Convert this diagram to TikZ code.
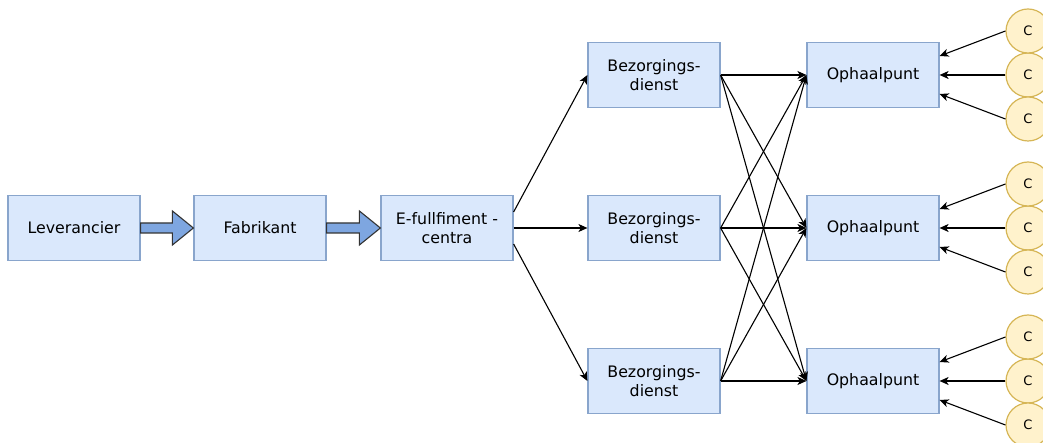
\documentclass[tikz,border=0pt]{standalone}
\usepackage{fontspec}
\setmainfont{DejaVu Sans}
\usepackage{tikz}
\usetikzlibrary{arrows.meta, positioning}

\definecolor{boxfill}{HTML}{DAE8FC}
\definecolor{boxdraw}{HTML}{6C8EBF}
\definecolor{klantfill}{HTML}{FFF2CC}
\definecolor{klantdraw}{HTML}{D6B656}
\definecolor{pijlfill}{HTML}{7EA6E0}

\begin{document}
\begin{tikzpicture}[auto, >={Stealth[length=9pt, width=8pt, inset=2.5pt]}, line width=1.1pt, font=\fontsize{15.8}{19}\selectfont]
        % Stijlen voor blokken, klanten en pijlen
        \tikzstyle{block} = [draw=boxdraw!80, fill=boxfill, line width=1.2pt, rectangle, align=center, minimum height=65pt, minimum width=132pt, inner sep=2pt]
        \tikzstyle{klant} = [draw=klantdraw, fill=klantfill, line width=1.2pt, circle, minimum size=44pt, inner sep=0pt, font=\fontsize{13}{15}\selectfont]
        \tikzstyle{dikkepijl} = [draw=black!80, fill=pijlfill, line width=1.1pt, line join=miter]

        \useasboundingbox (-74pt,228pt) rectangle (969pt,-215pt);

        % Nodes
        \node at (0,0) [block] (leverancier) {Leverancier};
        \node [block, on grid, right=186pt of leverancier] (fabrikant) {Fabrikant};
        \node [block, on grid, right=187pt of fabrikant] (fulfilment) {E-fullfiment -\\centra};
        \node [block, on grid, right=207pt of fulfilment] (bezorg2) {Bezorgings-\\dienst};
        \node [block, on grid, above=153pt of bezorg2] (bezorg1) {Bezorgings-\\dienst};
        \node [block, on grid, below=153pt of bezorg2] (bezorg3) {Bezorgings-\\dienst};
        \node [block, on grid, right=219pt of bezorg1] (ophaal1) {Ophaalpunt};
        \node [block, on grid, right=219pt of bezorg2] (ophaal2) {Ophaalpunt};
        \node [block, on grid, right=219pt of bezorg3] (ophaal3) {Ophaalpunt};
        \foreach \i in {1,2,3} {
          \node [klant, on grid, right=155pt of ophaal\i] (klant\i b) {C};
          \node [klant, on grid, above=44pt of klant\i b] (klant\i a) {C};
          \node [klant, on grid, below=44pt of klant\i b] (klant\i c) {C};
        }

        % Dikke pijlen
        \draw [dikkepijl] ([yshift=5pt]leverancier.east) -- ([xshift=-21pt, yshift=5pt]fabrikant.west)
          -- ([xshift=-21pt, yshift=17pt]fabrikant.west) -- (fabrikant.west)
          -- ([xshift=-21pt, yshift=-17pt]fabrikant.west) -- ([xshift=-21pt, yshift=-5pt]fabrikant.west)
          -- ([yshift=-5pt]leverancier.east) -- cycle;
        \draw [dikkepijl] ([yshift=5pt]fabrikant.east) -- ([xshift=-21pt, yshift=5pt]fulfilment.west)
          -- ([xshift=-21pt, yshift=17pt]fulfilment.west) -- (fulfilment.west)
          -- ([xshift=-21pt, yshift=-17pt]fulfilment.west) -- ([xshift=-21pt, yshift=-5pt]fulfilment.west)
          -- ([yshift=-5pt]fabrikant.east) -- cycle;

        % Lines
        \draw [->] ([yshift=16pt]fulfilment.east) -- (bezorg1.west);
        \draw [->] (fulfilment.east) -- (bezorg2.west);
        \draw [->] ([yshift=-16pt]fulfilment.east) -- (bezorg3.west);
        \foreach \i in {1,2,3} {
          \foreach \j in {1,2,3} {
            \draw [->] (bezorg\i.east) -- (ophaal\j.west);
          }
          \draw [->] (klant\i a.west) -- ([yshift=19pt]ophaal\i.east);
          \draw [->] (klant\i b.west) -- (ophaal\i.east);
          \draw [->] (klant\i c.west) -- ([yshift=-19pt]ophaal\i.east);
        }

      \end{tikzpicture}
\end{document}
